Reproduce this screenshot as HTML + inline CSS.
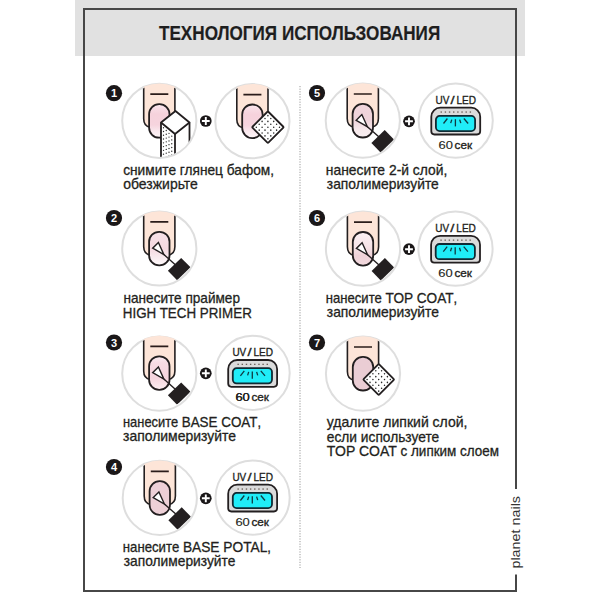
<!DOCTYPE html>
<html><head><meta charset="utf-8"><style>
html,body{margin:0;padding:0;background:#fff;}
body{width:600px;height:600px;position:relative;overflow:hidden;font-family:"Liberation Sans", sans-serif;}
#band{position:absolute;left:75px;top:0;width:450px;height:56px;background:#e1e1e1;}
#frame{position:absolute;left:83px;top:8px;width:430px;height:580px;border:2px solid #474747;}
svg{position:absolute;left:0;top:0;}
svg text{font-family:"Liberation Sans", sans-serif;}
</style></head><body>
<div id="band"></div>
<div id="frame"></div>
<svg width="600" height="600" viewBox="0 0 600 600">
<defs>
<clipPath id="cc"><circle cx="0" cy="0" r="36.2"/></clipPath>
<clipPath id="cb"><circle cx="0" cy="0" r="37.3"/></clipPath>
<linearGradient id="gA" x1="0" y1="0" x2="0" y2="1">
  <stop offset="0" stop-color="#fcecf1"/><stop offset="0.12" stop-color="#f8dde5"/><stop offset="0.3" stop-color="#f6d2dc"/>
  <stop offset="0.62" stop-color="#f6d4de"/><stop offset="0.82" stop-color="#faeaef"/><stop offset="1" stop-color="#fdf5f7"/></linearGradient>
<linearGradient id="gB" x1="0" y1="0" x2="0" y2="1">
  <stop offset="0" stop-color="#f7e2e8"/><stop offset="0.5" stop-color="#f5d8e0"/>
  <stop offset="0.75" stop-color="#f9eaee"/><stop offset="1" stop-color="#fefafb"/></linearGradient>
<linearGradient id="gC" x1="0" y1="0" x2="0" y2="1">
  <stop offset="0" stop-color="#fbeef2"/><stop offset="0.2" stop-color="#f7dbe3"/>
  <stop offset="0.65" stop-color="#f5d5de"/><stop offset="1" stop-color="#fbeef1"/></linearGradient>
<linearGradient id="gE" x1="0" y1="0" x2="0" y2="1">
  <stop offset="0" stop-color="#f0d5dc"/><stop offset="0.5" stop-color="#eed3da"/>
  <stop offset="0.75" stop-color="#f6e8eb"/><stop offset="1" stop-color="#f8eef0"/></linearGradient>
<linearGradient id="gF" x1="0" y1="0" x2="0" y2="1">
  <stop offset="0" stop-color="#fbf1f3"/><stop offset="0.45" stop-color="#f6e3e7"/>
  <stop offset="0.7" stop-color="#efd2d8"/><stop offset="1" stop-color="#f1d8dd"/></linearGradient>
</defs>
<line x1="300" y1="86" x2="300" y2="568" stroke="#9a9a9a" stroke-width="1" stroke-dasharray="1.2 1.4"/>
<circle cx="114.00" cy="93.20" r="8.1" fill="#1a1718"/><text x="114.00" y="97.20" text-anchor="middle" font-size="11" font-weight="bold" fill="#fff">1</text><circle cx="159.30" cy="120.80" r="37.1" fill="#fff" stroke="#dedede" stroke-width="2"/><g transform="translate(159.30,120.80)"><g clip-path="url(#cc)"></g><g clip-path="url(#cb)"><path d="M-15.6,-40 L-15.6,-2 Q-15.6,5.5 -9,6.5 L9,6.5 Q15.6,5.5 15.6,-2 L15.6,-40 Z" fill="#fde5d8"/></g><g clip-path="url(#cc)"><path d="M-15.6,-40 L-15.6,-2 Q-15.6,5.5 -9,6.5 L9,6.5 Q15.6,5.5 15.6,-2 L15.6,-40" fill="none" stroke="#231f20" stroke-width="1.6"/><line x1="-9" y1="-26.6" x2="9" y2="-26.6" stroke="#2a1c1a" stroke-width="1.7"/><rect x="-10.2" y="-16.7" width="20.4" height="33.6" rx="10" ry="10" fill="url(#gA)" stroke="#231f20" stroke-width="1.8"/><path d="M1.7,1.7 L15.7,13.2 L15.7,60 L1.7,60 Z" fill="#fff"/><circle cx="4.20" cy="6.95" r="0.7" fill="#2a2a2a"/><circle cx="4.20" cy="10.72" r="0.7" fill="#2a2a2a"/><circle cx="4.20" cy="14.49" r="0.7" fill="#2a2a2a"/><circle cx="4.20" cy="18.26" r="0.7" fill="#2a2a2a"/><circle cx="4.20" cy="22.03" r="0.7" fill="#2a2a2a"/><circle cx="4.20" cy="25.80" r="0.7" fill="#2a2a2a"/><circle cx="4.20" cy="29.57" r="0.7" fill="#2a2a2a"/><circle cx="4.20" cy="33.34" r="0.7" fill="#2a2a2a"/><circle cx="4.20" cy="37.11" r="0.7" fill="#2a2a2a"/><circle cx="6.95" cy="9.75" r="0.7" fill="#2a2a2a"/><circle cx="6.95" cy="13.52" r="0.7" fill="#2a2a2a"/><circle cx="6.95" cy="17.29" r="0.7" fill="#2a2a2a"/><circle cx="6.95" cy="21.06" r="0.7" fill="#2a2a2a"/><circle cx="6.95" cy="24.83" r="0.7" fill="#2a2a2a"/><circle cx="6.95" cy="28.60" r="0.7" fill="#2a2a2a"/><circle cx="6.95" cy="32.37" r="0.7" fill="#2a2a2a"/><circle cx="6.95" cy="36.14" r="0.7" fill="#2a2a2a"/><circle cx="6.95" cy="39.91" r="0.7" fill="#2a2a2a"/><circle cx="9.70" cy="12.55" r="0.7" fill="#2a2a2a"/><circle cx="9.70" cy="16.32" r="0.7" fill="#2a2a2a"/><circle cx="9.70" cy="20.09" r="0.7" fill="#2a2a2a"/><circle cx="9.70" cy="23.86" r="0.7" fill="#2a2a2a"/><circle cx="9.70" cy="27.63" r="0.7" fill="#2a2a2a"/><circle cx="9.70" cy="31.40" r="0.7" fill="#2a2a2a"/><circle cx="9.70" cy="35.17" r="0.7" fill="#2a2a2a"/><circle cx="9.70" cy="38.94" r="0.7" fill="#2a2a2a"/><circle cx="12.45" cy="15.35" r="0.7" fill="#2a2a2a"/><circle cx="12.45" cy="19.12" r="0.7" fill="#2a2a2a"/><circle cx="12.45" cy="22.89" r="0.7" fill="#2a2a2a"/><circle cx="12.45" cy="26.66" r="0.7" fill="#2a2a2a"/><circle cx="12.45" cy="30.43" r="0.7" fill="#2a2a2a"/><circle cx="12.45" cy="34.20" r="0.7" fill="#2a2a2a"/><circle cx="12.45" cy="37.97" r="0.7" fill="#2a2a2a"/><path d="M15.7,13.2 L30.2,1.7 L30.2,60 L15.7,60 Z" fill="#fff"/><path d="M16.2,-9.8 L30.2,1.7 L15.7,13.2 L1.7,1.7 Z" fill="#fff" stroke="#231f20" stroke-width="1.8" stroke-linejoin="round"/><path d="M1.7,1.7 L1.7,60 M15.7,13.2 L15.7,60 M30.2,1.7 L30.2,60" fill="none" stroke="#231f20" stroke-width="1.8"/></g></g><circle cx="205.80" cy="121.00" r="5.85" fill="#1a1718"/><path d="M201.90,121.00 h7.8 M205.80,117.10 v7.8" stroke="#fff" stroke-width="1.9"/><circle cx="252.40" cy="121.20" r="37.1" fill="#fff" stroke="#dedede" stroke-width="2"/><g transform="translate(252.40,121.20)"><g clip-path="url(#cc)"></g><g clip-path="url(#cb)"><path d="M-15.6,-40 L-15.6,-2 Q-15.6,5.5 -9,6.5 L9,6.5 Q15.6,5.5 15.6,-2 L15.6,-40 Z" fill="#fde5d8"/></g><g clip-path="url(#cc)"><path d="M-15.6,-40 L-15.6,-2 Q-15.6,5.5 -9,6.5 L9,6.5 Q15.6,5.5 15.6,-2 L15.6,-40" fill="none" stroke="#231f20" stroke-width="1.6"/><line x1="-9" y1="-26.6" x2="9" y2="-26.6" stroke="#2a1c1a" stroke-width="1.7"/><rect x="-10.2" y="-16.7" width="20.4" height="33.6" rx="10" ry="10" fill="url(#gA)" stroke="#231f20" stroke-width="1.8"/><g transform="translate(15.50,6.00) rotate(45)"><rect x="-11.24" y="-11.24" width="22.49" height="22.49" rx="1" fill="#fff" stroke="#231f20" stroke-width="1.8"/><circle cx="-8.20" cy="-8.20" r="0.75" fill="#2a2a2a"/><circle cx="-8.20" cy="-4.10" r="0.75" fill="#2a2a2a"/><circle cx="-8.20" cy="0.00" r="0.75" fill="#2a2a2a"/><circle cx="-8.20" cy="4.10" r="0.75" fill="#2a2a2a"/><circle cx="-8.20" cy="8.20" r="0.75" fill="#2a2a2a"/><circle cx="-4.10" cy="-8.20" r="0.75" fill="#2a2a2a"/><circle cx="-4.10" cy="-4.10" r="0.75" fill="#2a2a2a"/><circle cx="-4.10" cy="0.00" r="0.75" fill="#2a2a2a"/><circle cx="-4.10" cy="4.10" r="0.75" fill="#2a2a2a"/><circle cx="-4.10" cy="8.20" r="0.75" fill="#2a2a2a"/><circle cx="0.00" cy="-8.20" r="0.75" fill="#2a2a2a"/><circle cx="0.00" cy="-4.10" r="0.75" fill="#2a2a2a"/><circle cx="0.00" cy="0.00" r="0.75" fill="#2a2a2a"/><circle cx="0.00" cy="4.10" r="0.75" fill="#2a2a2a"/><circle cx="0.00" cy="8.20" r="0.75" fill="#2a2a2a"/><circle cx="4.10" cy="-8.20" r="0.75" fill="#2a2a2a"/><circle cx="4.10" cy="-4.10" r="0.75" fill="#2a2a2a"/><circle cx="4.10" cy="0.00" r="0.75" fill="#2a2a2a"/><circle cx="4.10" cy="4.10" r="0.75" fill="#2a2a2a"/><circle cx="4.10" cy="8.20" r="0.75" fill="#2a2a2a"/><circle cx="8.20" cy="-8.20" r="0.75" fill="#2a2a2a"/><circle cx="8.20" cy="-4.10" r="0.75" fill="#2a2a2a"/><circle cx="8.20" cy="0.00" r="0.75" fill="#2a2a2a"/><circle cx="8.20" cy="4.10" r="0.75" fill="#2a2a2a"/><circle cx="8.20" cy="8.20" r="0.75" fill="#2a2a2a"/></g></g></g><circle cx="114.00" cy="218.00" r="8.1" fill="#1a1718"/><text x="114.00" y="222.00" text-anchor="middle" font-size="11" font-weight="bold" fill="#fff">2</text><circle cx="159.30" cy="248.50" r="37.1" fill="#fff" stroke="#dedede" stroke-width="2"/><g transform="translate(159.30,248.50)"><g clip-path="url(#cc)"></g><g clip-path="url(#cb)"><path d="M-15.6,-40 L-15.6,-2 Q-15.6,5.5 -9,6.5 L9,6.5 Q15.6,5.5 15.6,-2 L15.6,-40 Z" fill="#fde5d8"/></g><g clip-path="url(#cc)"><path d="M-15.6,-40 L-15.6,-2 Q-15.6,5.5 -9,6.5 L9,6.5 Q15.6,5.5 15.6,-2 L15.6,-40" fill="none" stroke="#231f20" stroke-width="1.6"/><line x1="-9" y1="-26.6" x2="9" y2="-26.6" stroke="#2a1c1a" stroke-width="1.7"/><rect x="-10.2" y="-16.7" width="20.4" height="33.6" rx="10" ry="10" fill="url(#gB)" stroke="#231f20" stroke-width="1.8"/><line x1="4.6" y1="6.1" x2="16" y2="16.2" stroke="#231f20" stroke-width="1.4"/><path d="M-0.9,-6.0 L-6.6,-0.3 L4.6,6.1 Z" fill="#fff" stroke="#231f20" stroke-width="1.4" stroke-linejoin="miter"/><path d="M21.9,9.4 L31.2,18.8 L17.8,31.8 L8.6,22.3 Z" fill="#231f20"/></g></g><circle cx="114.00" cy="342.50" r="8.1" fill="#1a1718"/><text x="114.00" y="346.50" text-anchor="middle" font-size="11" font-weight="bold" fill="#fff">3</text><circle cx="159.30" cy="373.60" r="37.1" fill="#fff" stroke="#dedede" stroke-width="2"/><g transform="translate(159.30,373.00)"><g clip-path="url(#cc)"></g><g clip-path="url(#cb)"><path d="M-15.6,-40 L-15.6,-2 Q-15.6,5.5 -9,6.5 L9,6.5 Q15.6,5.5 15.6,-2 L15.6,-40 Z" fill="#fde5d8"/></g><g clip-path="url(#cc)"><path d="M-15.6,-40 L-15.6,-2 Q-15.6,5.5 -9,6.5 L9,6.5 Q15.6,5.5 15.6,-2 L15.6,-40" fill="none" stroke="#231f20" stroke-width="1.6"/><line x1="-9" y1="-26.6" x2="9" y2="-26.6" stroke="#2a1c1a" stroke-width="1.7"/><rect x="-10.2" y="-16.7" width="20.4" height="33.6" rx="10" ry="10" fill="url(#gC)" stroke="#231f20" stroke-width="1.8"/><line x1="4.6" y1="6.1" x2="16" y2="16.2" stroke="#231f20" stroke-width="1.4"/><path d="M-0.9,-6.0 L-6.6,-0.3 L4.6,6.1 Z" fill="#fff" stroke="#231f20" stroke-width="1.4" stroke-linejoin="miter"/><path d="M21.9,9.4 L31.2,18.8 L17.8,31.8 L8.6,22.3 Z" fill="#231f20"/></g></g><circle cx="205.80" cy="373.30" r="5.85" fill="#1a1718"/><path d="M201.90,373.30 h7.8 M205.80,369.40 v7.8" stroke="#fff" stroke-width="1.9"/><circle cx="252.60" cy="372.90" r="37.1" fill="#fff" stroke="#dedede" stroke-width="2"/><g transform="translate(252.60,372.90)"><path d="M-24.4,-3.9 L-24.4,10.7 Q-24.4,13.9 -21.2,13.9 L21.3,13.9 Q24.5,13.9 24.5,10.7 L24.5,-3.9 C24.5,-8.9 20.4,-12.9 15.5,-12.9 L-15.4,-12.9 C-20.3,-12.9 -24.4,-8.9 -24.4,-3.9 Z" fill="#dbdbdb" stroke="#231f20" stroke-width="1.8"/><rect x="-19.8" y="-4.7" width="39.2" height="15.2" rx="3.8" fill="#20edf8" stroke="#0f2a33" stroke-width="1.8"/><rect x="-15.15" y="-9.2" width="1.4" height="1.3" fill="#6a5e56"/><rect x="-10.99" y="-9.2" width="1.4" height="1.3" fill="#6a5e56"/><rect x="-6.83" y="-9.2" width="1.4" height="1.3" fill="#6a5e56"/><rect x="-2.67" y="-9.2" width="1.4" height="1.3" fill="#6a5e56"/><rect x="1.49" y="-9.2" width="1.4" height="1.3" fill="#6a5e56"/><rect x="5.65" y="-9.2" width="1.4" height="1.3" fill="#6a5e56"/><rect x="9.81" y="-9.2" width="1.4" height="1.3" fill="#6a5e56"/><rect x="13.97" y="-9.2" width="1.4" height="1.3" fill="#6a5e56"/><line x1="-12.2" y1="2.9" x2="-8.3" y2="-2.1" stroke="#0f3a42" stroke-width="1.3"/><line x1="-5.0" y1="2.5" x2="-3.9" y2="-1.0" stroke="#0f3a42" stroke-width="1.3"/><line x1="-0.3" y1="-1.4" x2="-0.3" y2="5.8" stroke="#0f3a42" stroke-width="1.3"/><line x1="4.0" y1="-1.0" x2="5.1" y2="2.5" stroke="#0f3a42" stroke-width="1.3"/><line x1="8.2" y1="-2.1" x2="12.4" y2="2.9" stroke="#0f3a42" stroke-width="1.3"/></g><text x="232.40" y="355.90" font-size="11.50" fill="#231f20" textLength="13.80" lengthAdjust="spacingAndGlyphs" stroke="#231f20" stroke-width="0.35">UV</text><text x="247.40" y="355.90" font-size="11.50" fill="#231f20" textLength="4.10" lengthAdjust="spacingAndGlyphs" stroke="#231f20" stroke-width="0.35">/</text><text x="253.40" y="355.90" font-size="11.50" fill="#231f20" textLength="19.60" lengthAdjust="spacingAndGlyphs" stroke="#231f20" stroke-width="0.35">LED</text><text x="235.40" y="401.20" font-size="11.50" fill="#231f20" textLength="14.40" lengthAdjust="spacingAndGlyphs" stroke="#231f20" stroke-width="0.12">60</text><text x="251.50" y="401.20" font-size="11.50" fill="#231f20" textLength="17.50" lengthAdjust="spacingAndGlyphs" stroke="#231f20" stroke-width="0.35">сек</text><circle cx="114.00" cy="467.00" r="8.1" fill="#1a1718"/><text x="114.00" y="471.00" text-anchor="middle" font-size="11" font-weight="bold" fill="#fff">4</text><circle cx="159.80" cy="497.90" r="37.1" fill="#fff" stroke="#dedede" stroke-width="2"/><g transform="translate(159.80,497.90)"><g clip-path="url(#cc)"></g><g clip-path="url(#cb)"><path d="M-15.6,-40 L-15.6,-2 Q-15.6,5.5 -9,6.5 L9,6.5 Q15.6,5.5 15.6,-2 L15.6,-40 Z" fill="#fde5d8"/></g><g clip-path="url(#cc)"><path d="M-15.6,-40 L-15.6,-2 Q-15.6,5.5 -9,6.5 L9,6.5 Q15.6,5.5 15.6,-2 L15.6,-40" fill="none" stroke="#231f20" stroke-width="1.6"/><line x1="-9" y1="-26.6" x2="9" y2="-26.6" stroke="#2a1c1a" stroke-width="1.7"/><rect x="-10.2" y="-16.7" width="20.4" height="33.6" rx="10" ry="10" fill="#edd0d7" stroke="#231f20" stroke-width="1.8"/><line x1="4.6" y1="6.1" x2="16" y2="16.2" stroke="#231f20" stroke-width="1.4"/><path d="M-0.9,-6.0 L-6.6,-0.3 L4.6,6.1 Z" fill="#fff" stroke="#231f20" stroke-width="1.4" stroke-linejoin="miter"/><path d="M21.9,9.4 L31.2,18.8 L17.8,31.8 L8.6,22.3 Z" fill="#231f20"/></g></g><circle cx="205.80" cy="498.30" r="5.85" fill="#1a1718"/><path d="M201.90,498.30 h7.8 M205.80,494.40 v7.8" stroke="#fff" stroke-width="1.9"/><circle cx="252.60" cy="497.60" r="37.1" fill="#fff" stroke="#dedede" stroke-width="2"/><g transform="translate(252.60,497.60)"><path d="M-24.4,-3.9 L-24.4,10.7 Q-24.4,13.9 -21.2,13.9 L21.3,13.9 Q24.5,13.9 24.5,10.7 L24.5,-3.9 C24.5,-8.9 20.4,-12.9 15.5,-12.9 L-15.4,-12.9 C-20.3,-12.9 -24.4,-8.9 -24.4,-3.9 Z" fill="#dbdbdb" stroke="#231f20" stroke-width="1.8"/><rect x="-19.8" y="-4.7" width="39.2" height="15.2" rx="3.8" fill="#20edf8" stroke="#0f2a33" stroke-width="1.8"/><rect x="-15.15" y="-9.2" width="1.4" height="1.3" fill="#6a5e56"/><rect x="-10.99" y="-9.2" width="1.4" height="1.3" fill="#6a5e56"/><rect x="-6.83" y="-9.2" width="1.4" height="1.3" fill="#6a5e56"/><rect x="-2.67" y="-9.2" width="1.4" height="1.3" fill="#6a5e56"/><rect x="1.49" y="-9.2" width="1.4" height="1.3" fill="#6a5e56"/><rect x="5.65" y="-9.2" width="1.4" height="1.3" fill="#6a5e56"/><rect x="9.81" y="-9.2" width="1.4" height="1.3" fill="#6a5e56"/><rect x="13.97" y="-9.2" width="1.4" height="1.3" fill="#6a5e56"/><line x1="-12.2" y1="2.9" x2="-8.3" y2="-2.1" stroke="#0f3a42" stroke-width="1.3"/><line x1="-5.0" y1="2.5" x2="-3.9" y2="-1.0" stroke="#0f3a42" stroke-width="1.3"/><line x1="-0.3" y1="-1.4" x2="-0.3" y2="5.8" stroke="#0f3a42" stroke-width="1.3"/><line x1="4.0" y1="-1.0" x2="5.1" y2="2.5" stroke="#0f3a42" stroke-width="1.3"/><line x1="8.2" y1="-2.1" x2="12.4" y2="2.9" stroke="#0f3a42" stroke-width="1.3"/></g><text x="232.40" y="480.60" font-size="11.50" fill="#231f20" textLength="13.80" lengthAdjust="spacingAndGlyphs" stroke="#231f20" stroke-width="0.35">UV</text><text x="247.40" y="480.60" font-size="11.50" fill="#231f20" textLength="4.10" lengthAdjust="spacingAndGlyphs" stroke="#231f20" stroke-width="0.35">/</text><text x="253.40" y="480.60" font-size="11.50" fill="#231f20" textLength="19.60" lengthAdjust="spacingAndGlyphs" stroke="#231f20" stroke-width="0.35">LED</text><text x="235.40" y="525.90" font-size="11.50" fill="#231f20" textLength="14.40" lengthAdjust="spacingAndGlyphs" stroke="#231f20" stroke-width="0.12">60</text><text x="251.50" y="525.90" font-size="11.50" fill="#231f20" textLength="17.50" lengthAdjust="spacingAndGlyphs" stroke="#231f20" stroke-width="0.35">сек</text><circle cx="317.00" cy="93.00" r="8.1" fill="#1a1718"/><text x="317.00" y="97.00" text-anchor="middle" font-size="11" font-weight="bold" fill="#fff">5</text><circle cx="362.80" cy="120.60" r="37.1" fill="#fff" stroke="#dedede" stroke-width="2"/><g transform="translate(362.80,120.60)"><g clip-path="url(#cc)"></g><g clip-path="url(#cb)"><path d="M-15.6,-40 L-15.6,-2 Q-15.6,5.5 -9,6.5 L9,6.5 Q15.6,5.5 15.6,-2 L15.6,-40 Z" fill="#fde5d8"/></g><g clip-path="url(#cc)"><path d="M-15.6,-40 L-15.6,-2 Q-15.6,5.5 -9,6.5 L9,6.5 Q15.6,5.5 15.6,-2 L15.6,-40" fill="none" stroke="#231f20" stroke-width="1.6"/><line x1="-9" y1="-26.6" x2="9" y2="-26.6" stroke="#2a1c1a" stroke-width="1.7"/><rect x="-10.2" y="-16.7" width="20.4" height="33.6" rx="10" ry="10" fill="url(#gE)" stroke="#231f20" stroke-width="1.8"/><line x1="4.6" y1="6.1" x2="16" y2="16.2" stroke="#231f20" stroke-width="1.4"/><path d="M-0.9,-6.0 L-6.6,-0.3 L4.6,6.1 Z" fill="#fff" stroke="#231f20" stroke-width="1.4" stroke-linejoin="miter"/><path d="M21.9,9.4 L31.2,18.8 L17.8,31.8 L8.6,22.3 Z" fill="#231f20"/></g></g><circle cx="409.00" cy="121.30" r="5.85" fill="#1a1718"/><path d="M405.10,121.30 h7.8 M409.00,117.40 v7.8" stroke="#fff" stroke-width="1.9"/><circle cx="455.70" cy="120.60" r="37.1" fill="#fff" stroke="#dedede" stroke-width="2"/><g transform="translate(455.70,120.60)"><path d="M-24.4,-3.9 L-24.4,10.7 Q-24.4,13.9 -21.2,13.9 L21.3,13.9 Q24.5,13.9 24.5,10.7 L24.5,-3.9 C24.5,-8.9 20.4,-12.9 15.5,-12.9 L-15.4,-12.9 C-20.3,-12.9 -24.4,-8.9 -24.4,-3.9 Z" fill="#dbdbdb" stroke="#231f20" stroke-width="1.8"/><rect x="-19.8" y="-4.7" width="39.2" height="15.2" rx="3.8" fill="#20edf8" stroke="#0f2a33" stroke-width="1.8"/><rect x="-15.15" y="-9.2" width="1.4" height="1.3" fill="#6a5e56"/><rect x="-10.99" y="-9.2" width="1.4" height="1.3" fill="#6a5e56"/><rect x="-6.83" y="-9.2" width="1.4" height="1.3" fill="#6a5e56"/><rect x="-2.67" y="-9.2" width="1.4" height="1.3" fill="#6a5e56"/><rect x="1.49" y="-9.2" width="1.4" height="1.3" fill="#6a5e56"/><rect x="5.65" y="-9.2" width="1.4" height="1.3" fill="#6a5e56"/><rect x="9.81" y="-9.2" width="1.4" height="1.3" fill="#6a5e56"/><rect x="13.97" y="-9.2" width="1.4" height="1.3" fill="#6a5e56"/><line x1="-12.2" y1="2.9" x2="-8.3" y2="-2.1" stroke="#0f3a42" stroke-width="1.3"/><line x1="-5.0" y1="2.5" x2="-3.9" y2="-1.0" stroke="#0f3a42" stroke-width="1.3"/><line x1="-0.3" y1="-1.4" x2="-0.3" y2="5.8" stroke="#0f3a42" stroke-width="1.3"/><line x1="4.0" y1="-1.0" x2="5.1" y2="2.5" stroke="#0f3a42" stroke-width="1.3"/><line x1="8.2" y1="-2.1" x2="12.4" y2="2.9" stroke="#0f3a42" stroke-width="1.3"/></g><text x="435.50" y="103.60" font-size="11.50" fill="#231f20" textLength="13.80" lengthAdjust="spacingAndGlyphs" stroke="#231f20" stroke-width="0.35">UV</text><text x="450.50" y="103.60" font-size="11.50" fill="#231f20" textLength="4.10" lengthAdjust="spacingAndGlyphs" stroke="#231f20" stroke-width="0.35">/</text><text x="456.50" y="103.60" font-size="11.50" fill="#231f20" textLength="19.60" lengthAdjust="spacingAndGlyphs" stroke="#231f20" stroke-width="0.35">LED</text><text x="438.50" y="148.90" font-size="11.50" fill="#231f20" textLength="14.40" lengthAdjust="spacingAndGlyphs" stroke="#231f20" stroke-width="0.12">60</text><text x="454.60" y="148.90" font-size="11.50" fill="#231f20" textLength="17.50" lengthAdjust="spacingAndGlyphs" stroke="#231f20" stroke-width="0.35">сек</text><circle cx="317.00" cy="218.00" r="8.1" fill="#1a1718"/><text x="317.00" y="222.00" text-anchor="middle" font-size="11" font-weight="bold" fill="#fff">6</text><circle cx="363.00" cy="248.70" r="37.1" fill="#fff" stroke="#dedede" stroke-width="2"/><g transform="translate(363.00,248.70)"><g clip-path="url(#cc)"></g><g clip-path="url(#cb)"><path d="M-15.6,-40 L-15.6,-2 Q-15.6,5.5 -9,6.5 L9,6.5 Q15.6,5.5 15.6,-2 L15.6,-40 Z" fill="#fde5d8"/></g><g clip-path="url(#cc)"><path d="M-15.6,-40 L-15.6,-2 Q-15.6,5.5 -9,6.5 L9,6.5 Q15.6,5.5 15.6,-2 L15.6,-40" fill="none" stroke="#231f20" stroke-width="1.6"/><line x1="-9" y1="-26.6" x2="9" y2="-26.6" stroke="#2a1c1a" stroke-width="1.7"/><rect x="-10.2" y="-16.7" width="20.4" height="33.6" rx="10" ry="10" fill="url(#gF)" stroke="#231f20" stroke-width="1.8"/><line x1="4.6" y1="6.1" x2="16" y2="16.2" stroke="#231f20" stroke-width="1.4"/><path d="M-0.9,-6.0 L-6.6,-0.3 L4.6,6.1 Z" fill="#fff" stroke="#231f20" stroke-width="1.4" stroke-linejoin="miter"/><path d="M21.9,9.4 L31.2,18.8 L17.8,31.8 L8.6,22.3 Z" fill="#231f20"/></g></g><circle cx="409.00" cy="249.20" r="5.85" fill="#1a1718"/><path d="M405.10,249.20 h7.8 M409.00,245.30 v7.8" stroke="#fff" stroke-width="1.9"/><circle cx="455.50" cy="248.70" r="37.1" fill="#fff" stroke="#dedede" stroke-width="2"/><g transform="translate(455.50,248.70)"><path d="M-24.4,-3.9 L-24.4,10.7 Q-24.4,13.9 -21.2,13.9 L21.3,13.9 Q24.5,13.9 24.5,10.7 L24.5,-3.9 C24.5,-8.9 20.4,-12.9 15.5,-12.9 L-15.4,-12.9 C-20.3,-12.9 -24.4,-8.9 -24.4,-3.9 Z" fill="#dbdbdb" stroke="#231f20" stroke-width="1.8"/><rect x="-19.8" y="-4.7" width="39.2" height="15.2" rx="3.8" fill="#20edf8" stroke="#0f2a33" stroke-width="1.8"/><rect x="-15.15" y="-9.2" width="1.4" height="1.3" fill="#6a5e56"/><rect x="-10.99" y="-9.2" width="1.4" height="1.3" fill="#6a5e56"/><rect x="-6.83" y="-9.2" width="1.4" height="1.3" fill="#6a5e56"/><rect x="-2.67" y="-9.2" width="1.4" height="1.3" fill="#6a5e56"/><rect x="1.49" y="-9.2" width="1.4" height="1.3" fill="#6a5e56"/><rect x="5.65" y="-9.2" width="1.4" height="1.3" fill="#6a5e56"/><rect x="9.81" y="-9.2" width="1.4" height="1.3" fill="#6a5e56"/><rect x="13.97" y="-9.2" width="1.4" height="1.3" fill="#6a5e56"/><line x1="-12.2" y1="2.9" x2="-8.3" y2="-2.1" stroke="#0f3a42" stroke-width="1.3"/><line x1="-5.0" y1="2.5" x2="-3.9" y2="-1.0" stroke="#0f3a42" stroke-width="1.3"/><line x1="-0.3" y1="-1.4" x2="-0.3" y2="5.8" stroke="#0f3a42" stroke-width="1.3"/><line x1="4.0" y1="-1.0" x2="5.1" y2="2.5" stroke="#0f3a42" stroke-width="1.3"/><line x1="8.2" y1="-2.1" x2="12.4" y2="2.9" stroke="#0f3a42" stroke-width="1.3"/></g><text x="435.30" y="231.70" font-size="11.50" fill="#231f20" textLength="13.80" lengthAdjust="spacingAndGlyphs" stroke="#231f20" stroke-width="0.35">UV</text><text x="450.30" y="231.70" font-size="11.50" fill="#231f20" textLength="4.10" lengthAdjust="spacingAndGlyphs" stroke="#231f20" stroke-width="0.35">/</text><text x="456.30" y="231.70" font-size="11.50" fill="#231f20" textLength="19.60" lengthAdjust="spacingAndGlyphs" stroke="#231f20" stroke-width="0.35">LED</text><text x="438.30" y="277.00" font-size="11.50" fill="#231f20" textLength="14.40" lengthAdjust="spacingAndGlyphs" stroke="#231f20" stroke-width="0.12">60</text><text x="454.40" y="277.00" font-size="11.50" fill="#231f20" textLength="17.50" lengthAdjust="spacingAndGlyphs" stroke="#231f20" stroke-width="0.35">сек</text><circle cx="317.00" cy="342.50" r="8.1" fill="#1a1718"/><text x="317.00" y="346.50" text-anchor="middle" font-size="11" font-weight="bold" fill="#fff">7</text><circle cx="363.00" cy="373.60" r="37.1" fill="#fff" stroke="#dedede" stroke-width="2"/><g transform="translate(363.00,373.60)"><g clip-path="url(#cc)"></g><g clip-path="url(#cb)"><path d="M-15.6,-40 L-15.6,-2 Q-15.6,5.5 -9,6.5 L9,6.5 Q15.6,5.5 15.6,-2 L15.6,-40 Z" fill="#fde5d8"/></g><g clip-path="url(#cc)"><path d="M-15.6,-40 L-15.6,-2 Q-15.6,5.5 -9,6.5 L9,6.5 Q15.6,5.5 15.6,-2 L15.6,-40" fill="none" stroke="#231f20" stroke-width="1.6"/><line x1="-9" y1="-26.6" x2="9" y2="-26.6" stroke="#2a1c1a" stroke-width="1.7"/><rect x="-10.2" y="-16.7" width="20.4" height="33.6" rx="10" ry="10" fill="#eacdd4" stroke="#231f20" stroke-width="1.8"/><g transform="translate(15.70,5.90) rotate(45)"><rect x="-11.03" y="-11.03" width="22.06" height="22.06" rx="1" fill="#fff" stroke="#231f20" stroke-width="1.8"/><circle cx="-8.20" cy="-8.20" r="0.75" fill="#2a2a2a"/><circle cx="-8.20" cy="-4.10" r="0.75" fill="#2a2a2a"/><circle cx="-8.20" cy="0.00" r="0.75" fill="#2a2a2a"/><circle cx="-8.20" cy="4.10" r="0.75" fill="#2a2a2a"/><circle cx="-8.20" cy="8.20" r="0.75" fill="#2a2a2a"/><circle cx="-4.10" cy="-8.20" r="0.75" fill="#2a2a2a"/><circle cx="-4.10" cy="-4.10" r="0.75" fill="#2a2a2a"/><circle cx="-4.10" cy="0.00" r="0.75" fill="#2a2a2a"/><circle cx="-4.10" cy="4.10" r="0.75" fill="#2a2a2a"/><circle cx="-4.10" cy="8.20" r="0.75" fill="#2a2a2a"/><circle cx="0.00" cy="-8.20" r="0.75" fill="#2a2a2a"/><circle cx="0.00" cy="-4.10" r="0.75" fill="#2a2a2a"/><circle cx="0.00" cy="0.00" r="0.75" fill="#2a2a2a"/><circle cx="0.00" cy="4.10" r="0.75" fill="#2a2a2a"/><circle cx="0.00" cy="8.20" r="0.75" fill="#2a2a2a"/><circle cx="4.10" cy="-8.20" r="0.75" fill="#2a2a2a"/><circle cx="4.10" cy="-4.10" r="0.75" fill="#2a2a2a"/><circle cx="4.10" cy="0.00" r="0.75" fill="#2a2a2a"/><circle cx="4.10" cy="4.10" r="0.75" fill="#2a2a2a"/><circle cx="4.10" cy="8.20" r="0.75" fill="#2a2a2a"/><circle cx="8.20" cy="-8.20" r="0.75" fill="#2a2a2a"/><circle cx="8.20" cy="-4.10" r="0.75" fill="#2a2a2a"/><circle cx="8.20" cy="0.00" r="0.75" fill="#2a2a2a"/><circle cx="8.20" cy="4.10" r="0.75" fill="#2a2a2a"/><circle cx="8.20" cy="8.20" r="0.75" fill="#2a2a2a"/></g></g></g><text x="123.20" y="174.70" font-size="14.50" fill="#231f20" textLength="150.80" lengthAdjust="spacingAndGlyphs" stroke="#231f20" stroke-width="0.3">снимите глянец бафом,</text><text x="123.20" y="189.20" font-size="14.50" fill="#231f20" textLength="74.70" lengthAdjust="spacingAndGlyphs" stroke="#231f20" stroke-width="0.3">обезжирьте</text><text x="123.50" y="302.50" font-size="14.50" fill="#231f20" textLength="116.50" lengthAdjust="spacingAndGlyphs" stroke="#231f20" stroke-width="0.3">нанесите праймер</text><text x="122.80" y="317.50" font-size="14.50" fill="#231f20" textLength="129.00" lengthAdjust="spacingAndGlyphs" stroke="#231f20" stroke-width="0.3"><tspan font-size="15.1">HIGH TECH PRIMER</tspan></text><text x="123.00" y="426.80" font-size="14.50" fill="#231f20" textLength="138.10" lengthAdjust="spacingAndGlyphs" stroke="#231f20" stroke-width="0.3">нанесите <tspan font-size="15.1">BASE COAT</tspan>,</text><text x="123.00" y="441.30" font-size="14.50" fill="#231f20" textLength="112.90" lengthAdjust="spacingAndGlyphs" stroke="#231f20" stroke-width="0.3">заполимеризуйте</text><text x="122.80" y="551.50" font-size="14.50" fill="#231f20" textLength="148.20" lengthAdjust="spacingAndGlyphs" stroke="#231f20" stroke-width="0.3">нанесите <tspan font-size="15.1">BASE POTAL</tspan>,</text><text x="123.80" y="566.00" font-size="14.50" fill="#231f20" textLength="111.50" lengthAdjust="spacingAndGlyphs" stroke="#231f20" stroke-width="0.3">заполимеризуйте</text><text x="325.80" y="174.50" font-size="14.50" fill="#231f20" textLength="121.50" lengthAdjust="spacingAndGlyphs" stroke="#231f20" stroke-width="0.3">нанесите 2-й слой,</text><text x="326.80" y="189.10" font-size="14.50" fill="#231f20" textLength="112.00" lengthAdjust="spacingAndGlyphs" stroke="#231f20" stroke-width="0.3">заполимеризуйте</text><text x="325.80" y="302.80" font-size="14.50" fill="#231f20" textLength="131.40" lengthAdjust="spacingAndGlyphs" stroke="#231f20" stroke-width="0.3">нанесите <tspan font-size="15.1">TOP COAT</tspan>,</text><text x="326.80" y="317.00" font-size="14.50" fill="#231f20" textLength="112.20" lengthAdjust="spacingAndGlyphs" stroke="#231f20" stroke-width="0.3">заполимеризуйте</text><text x="326.80" y="426.80" font-size="14.50" fill="#231f20" textLength="140.70" lengthAdjust="spacingAndGlyphs" stroke="#231f20" stroke-width="0.3">удалите липкий слой,</text><text x="326.80" y="441.50" font-size="14.50" fill="#231f20" textLength="112.40" lengthAdjust="spacingAndGlyphs" stroke="#231f20" stroke-width="0.3">если используете</text><text x="326.80" y="456.20" font-size="14.50" fill="#231f20" textLength="172.20" lengthAdjust="spacingAndGlyphs" stroke="#231f20" stroke-width="0.3"><tspan font-size="15.1">TOP COAT</tspan> с липким слоем</text><text x="235.40" y="401.20" font-size="11.50" fill="#231f20" textLength="14.40" lengthAdjust="spacingAndGlyphs" stroke="#231f20" stroke-width="0.12">60</text><text x="159.00" y="39.90" font-size="20.00"  textLength="281.20" lengthAdjust="spacingAndGlyphs" font-weight="bold" fill="#1e1e1e" stroke="#1e1e1e" stroke-width="0.2">ТЕХНОЛОГИЯ ИСПОЛЬЗОВАНИЯ</text>
<rect x="510" y="489" width="14" height="85.5" fill="#fff"/>
<text transform="translate(520.1,568.6) rotate(-90)" font-size="13.6" fill="#333" textLength="72.6" lengthAdjust="spacingAndGlyphs">planet nails</text>
</svg>
</body></html>
